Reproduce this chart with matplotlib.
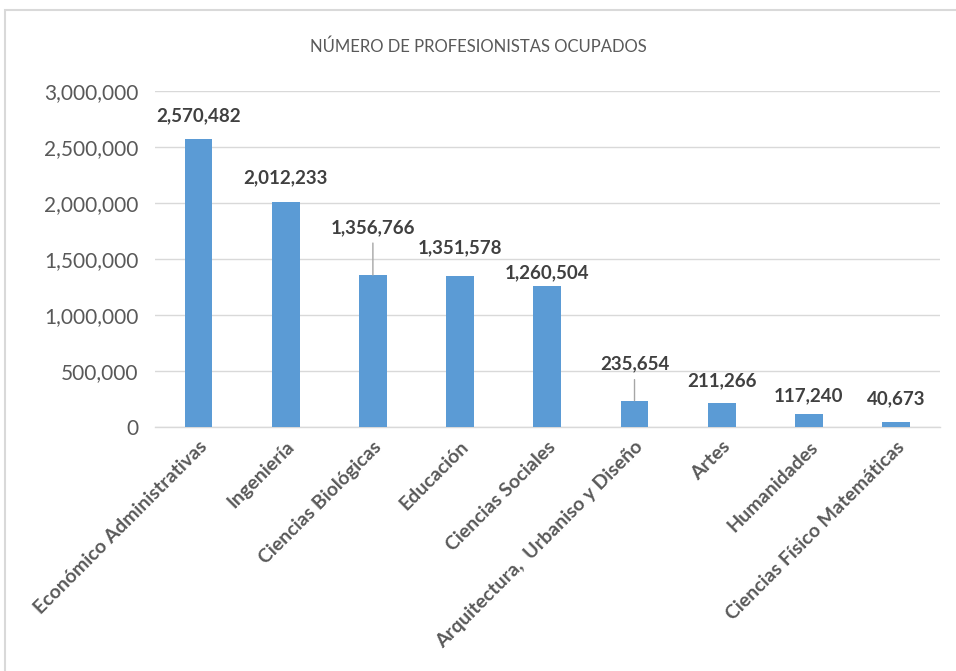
import matplotlib
matplotlib.use("Agg")
import matplotlib.pyplot as plt
from matplotlib.patches import Rectangle
from matplotlib.ticker import FuncFormatter

plt.rcParams['font.family'] = ['Lato', 'DejaVu Sans']

# data
categories = ['Económico Administrativas', 'Ingeniería', 'Ciencias Biológicas',
              'Educación', 'Ciencias Sociales', 'Arquitectura,  Urbaniso y Diseño',
              'Artes', 'Humanidades', 'Ciencias Físico Matemáticas']
values = [2570482, 2012233, 1356766, 1351578, 1260504, 235654, 211266, 117240, 40673]
y_ticks = [0, 500000, 1000000, 1500000, 2000000, 2500000, 3000000]

# label offsets above bar tops (pixels), leader line for the shifted ones
label_offsets = [15, 15, 39, 19, 5, 28, 14, 10, 15]
leaders = {2: 32, 5: 21}

grey = '#595959'
blue = '#5b9bd5'

fig = plt.figure(figsize=(9.56, 6.71), dpi=100)
ax = fig.add_axes([0.162, 0.3636, 0.821, 0.5008])

x = list(range(len(categories)))
ax.bar(x, values, width=0.32, color=blue, zorder=3)

ax.set_xlim(-0.5, len(categories) - 0.5)
ax.set_ylim(0, 3000000)
ax.set_yticks(y_ticks)
ax.yaxis.set_major_formatter(FuncFormatter(lambda v, p: f'{int(v):,}'))
ax.grid(axis='y', color='#d9d9d9', linewidth=1, zorder=0)
for s in ['top', 'right', 'left']:
    ax.spines[s].set_visible(False)
ax.spines['bottom'].set_color('#d9d9d9')
ax.spines['bottom'].set_linewidth(1)
ax.tick_params(axis='both', length=0, colors=grey)
ax.tick_params(axis='y', labelsize=15, pad=12)

ax.set_xticks(x)
ax.set_xticklabels(categories, rotation=45, ha='right', rotation_mode='anchor',
                   fontsize=14, fontweight='bold', color=grey)
ax.tick_params(axis='x', pad=8)

for i, v in enumerate(values):
    ax.annotate(f'{v:,}', (i, v), xytext=(0, label_offsets[i]),
                textcoords='offset pixels', ha='center', va='bottom',
                fontsize=13.5, fontweight='bold', color='#404040', zorder=4)
    if i in leaders:
        ax.annotate('', (i, v), xytext=(0, leaders[i]), textcoords='offset pixels',
                    arrowprops=dict(arrowstyle='-', color='#a6a6a6', lw=1,
                                    shrinkA=0, shrinkB=0))

fig.text(0.5, 1 - 47 / 671, 'NÚMERO DE PROFESIONISTAS OCUPADOS', ha='center',
         va='center', fontsize=12, color=grey)

fig.patches.append(Rectangle((5, -5), 955, 666, transform=None, fill=False,
                             edgecolor='#d9d9d9', linewidth=1.5))

fig.savefig('out.png', dpi=100)
